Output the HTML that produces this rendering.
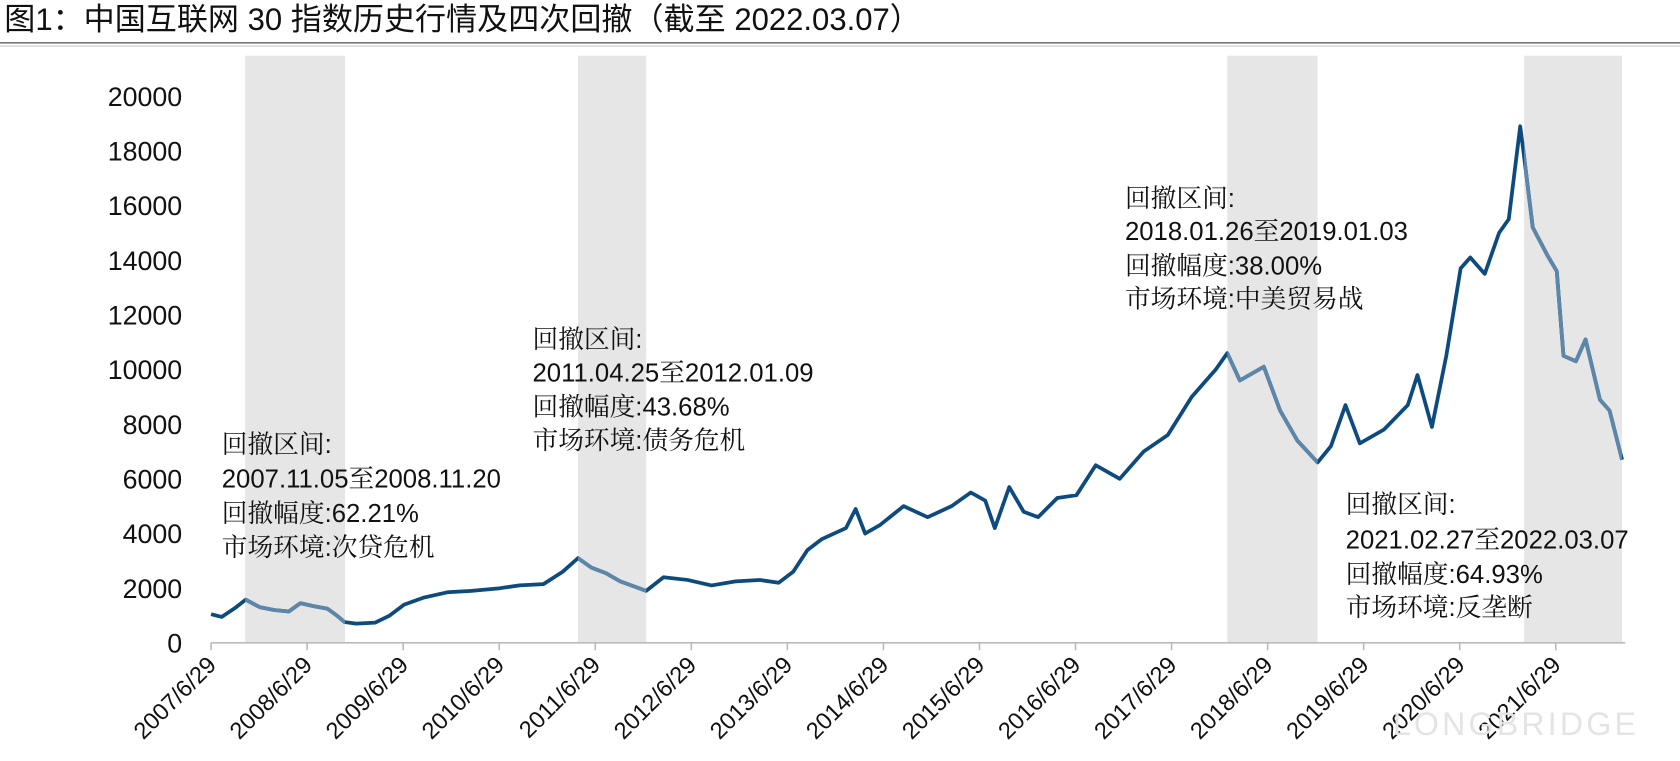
<!DOCTYPE html>
<html><head><meta charset="utf-8">
<style>
body{margin:0;background:#fff;width:1680px;height:756px;overflow:hidden;font-family:"Liberation Sans","Noto Sans CJK SC",sans-serif;}
svg text{font-family:"Liberation Sans","Noto Sans CJK SC",sans-serif;}
svg text.ann{font-family:"Liberation Sans","Noto Serif CJK SC",serif;font-size:24px;fill:#111;}
</style></head>
<body>
<svg id="chart" width="1680" height="756" xmlns="http://www.w3.org/2000/svg">
<defs id="defs"></defs>
<g id="root" transform="scale(1.0714)">
<text x="4" y="28" font-size="29" fill="#111">图1：中国互联网 30 指数历史行情及四次回撤（截至 2022.03.07）</text>
<line x1="0" y1="40" x2="1680" y2="40" stroke="#777" stroke-width="1.5"/>
<line x1="0" y1="43" x2="1680" y2="43" stroke="#ccc" stroke-width="1"/>
<g id="bands"></g>
<g id="yaxis"></g>
<g id="xaxis"></g>
<g id="lines"></g>
<g>
<text class="ann" x="207" y="423">回撤区间:</text><text class="ann" x="207" y="455">2007.11.05至2008.11.20</text><text class="ann" x="207" y="487">回撤幅度:62.21%</text><text class="ann" x="207" y="519">市场环境:次贷危机</text></g>
<g>
<text class="ann" x="497" y="325">回撤区间:</text><text class="ann" x="497" y="356">2011.04.25至2012.01.09</text><text class="ann" x="497" y="388">回撤幅度:43.68%</text><text class="ann" x="497" y="419">市场环境:债务危机</text></g>
<g>
<text class="ann" x="1050" y="193">回撤区间:</text><text class="ann" x="1050" y="224">2018.01.26至2019.01.03</text><text class="ann" x="1050" y="256">回撤幅度:38.00%</text><text class="ann" x="1050" y="287">市场环境:中美贸易战</text></g>
<g>
<text class="ann" x="1256" y="479">回撤区间:</text><text class="ann" x="1256" y="512">2021.02.27至2022.03.07</text><text class="ann" x="1256" y="544">回撤幅度:64.93%</text><text class="ann" x="1256" y="575">市场环境:反垄断</text></g>
<text x="1300" y="686" font-size="30" fill="#e4e4e4" letter-spacing="3">LONGBRIDGE</text>
</g>
</svg>
<script>
const times=[2007.49,2007.6,2007.75,2007.85,2008.0,2008.15,2008.3,2008.42,2008.55,2008.7,2008.8,2008.88,2009.0,2009.2,2009.35,2009.5,2009.7,2009.95,2010.2,2010.5,2010.7,2010.95,2011.15,2011.31,2011.45,2011.6,2011.75,2012.02,2012.2,2012.45,2012.7,2012.95,2013.2,2013.4,2013.55,2013.7,2013.85,2014.1,2014.2,2014.3,2014.45,2014.7,2014.95,2015.2,2015.4,2015.55,2015.65,2015.8,2015.95,2016.1,2016.3,2016.5,2016.7,2016.95,2017.2,2017.45,2017.7,2017.95,2018.07,2018.2,2018.45,2018.62,2018.8,2019.01,2019.15,2019.3,2019.45,2019.7,2019.95,2020.05,2020.2,2020.35,2020.5,2020.6,2020.75,2020.9,2021.0,2021.12,2021.16,2021.25,2021.4,2021.5,2021.57,2021.7,2021.8,2021.95,2022.05,2022.18];
const values=[1050,950,1300,1580,1300,1200,1150,1450,1350,1250,1000,760,700,740,1000,1400,1650,1850,1900,2000,2100,2150,2600,3100,2750,2550,2250,1900,2400,2300,2100,2250,2300,2200,2600,3400,3800,4200,4900,4000,4300,5000,4600,5000,5500,5200,4200,5700,4800,4600,5300,5400,6500,6000,7000,7600,9000,10000,10600,9600,10100,8500,7400,6600,7200,8700,7300,7800,8700,9800,7900,10500,13700,14100,13500,15000,15500,18900,17800,15200,14200,13600,10500,10300,11100,8900,8500,6700];
const yTicks=[0,2000,4000,6000,8000,10000,12000,14000,16000,18000,20000];
const xTickYears=[2007,2008,2009,2010,2011,2012,2013,2014,2015,2016,2017,2018,2019,2020,2021];
const bandStarts=[2007.845,2011.31,2018.07,2021.16];
const bandEnds=[2008.885,2012.02,2019.01,2022.18];
const NS="http://www.w3.org/2000/svg";
const X=t=>197+(t-2007.49)*89.65;
const Y=v=>600-v*0.02551;
const bands=document.getElementById('bands'),ya=document.getElementById('yaxis'),xa=document.getElementById('xaxis'),ln=document.getElementById('lines');
const defs=document.getElementById('defs');
function mk(tag,attrs,parent){const e=document.createElementNS(NS,tag);for(const k in attrs)e.setAttribute(k,attrs[k]);parent.appendChild(e);return e;}
bandStarts.forEach((s,i)=>{
 const r=mk('rect',{x:X(s),y:52,width:X(bandEnds[i])-X(s),height:548,fill:'#e6e6e6'},bands);
 
 
 const cp=mk('clipPath',{id:'cp'+i},defs);
 mk('rect',{x:X(s),y:0,width:X(bandEnds[i])-X(s),height:756},cp);
});
yTicks.forEach(v=>{
 const t=mk('text',{x:170,y:Y(v)+9,'text-anchor':'end','font-size':25,fill:'#111'},ya);
 t.textContent=v;
 
 
});
const ax=mk('line',{x1:197,y1:600,x2:1517,y2:600,stroke:'#bbb','stroke-width':1.5},xa);


xTickYears.forEach(yr=>{
 const x=X(yr+0.49);
 mk('line',{x1:x,y1:600,x2:x,y2:607,stroke:'#bbb','stroke-width':1.5},xa);
 const t=mk('text',{x:x+6,y:622,'text-anchor':'end','font-size':22,fill:'#111',transform:`rotate(-45 ${x+6} 622)`},xa);
 t.textContent=yr+'/6/29';
 
 
});
const d=times.map((t,i)=>(i?'L':'M')+X(t).toFixed(1)+','+Y(values[i]).toFixed(1)).join('');
const p=mk('path',{d:d,fill:'none',stroke:'#0d4a7e','stroke-width':3.5,'stroke-linejoin':'round'},ln);


bandStarts.forEach((s,i)=>{
 const q=mk('path',{d:d,fill:'none',stroke:'#5d86a8','stroke-width':3.5,'stroke-linejoin':'round','clip-path':`url(#cp${i})`},ln);
 
 
});
</script>
</body></html>
